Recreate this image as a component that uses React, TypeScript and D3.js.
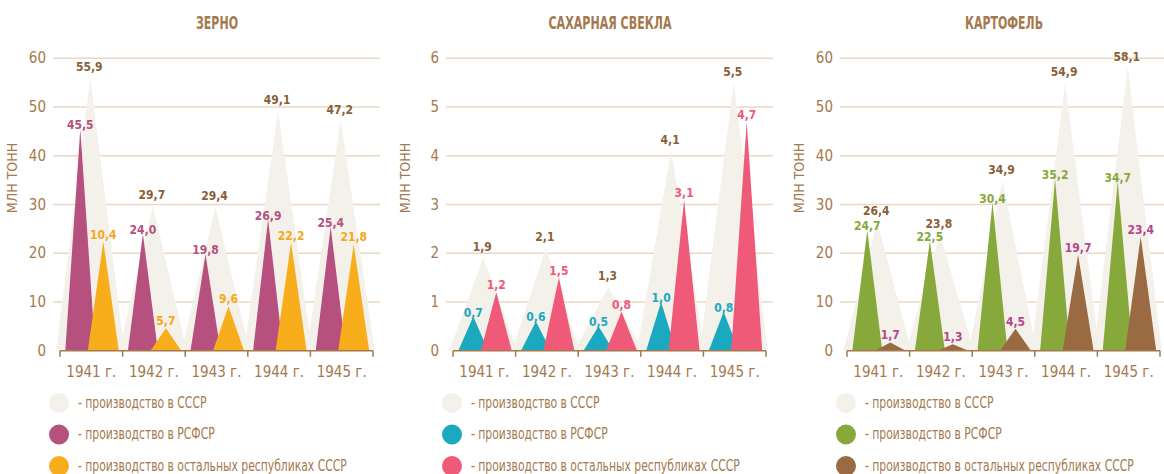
import React from 'react';
import * as d3 from 'd3';

const years = ['1941 г.', '1942 г.', '1943 г.', '1944 г.', '1945 г.'];

// Зерно
const grainUSSR = [55.9, 29.7, 29.4, 49.1, 47.2];
const grainRSFSR = [45.5, 24.0, 19.8, 26.9, 25.4];
const grainOther = [10.4, 5.7, 9.6, 22.2, 21.8];
// heights of the orange peaks as they are drawn in the source (1941 is drawn off its label)
const grainOtherDrawn = [22.4, 4.6, 9.1, 22.2, 21.8];

// Сахарная свекла
const beetUSSR = [1.9, 2.1, 1.3, 4.1, 5.5];
const beetRSFSR = [0.7, 0.6, 0.5, 1.0, 0.8];
const beetOther = [1.2, 1.5, 0.8, 3.1, 4.7];

// Картофель
const potatoUSSR = [26.4, 23.8, 34.9, 54.9, 58.1];
const potatoRSFSR = [24.7, 22.5, 30.4, 35.2, 34.7];
const potatoOther = [1.7, 1.3, 4.5, 19.7, 23.4];

const grainTicks = [0, 10, 20, 30, 40, 50, 60];
const beetTicks = [0, 1, 2, 3, 4, 5, 6];
const potatoTicks = [0, 10, 20, 30, 40, 50, 60];

const legendLabels = [
  '- производство в СССР',
  '- производство в РСФСР',
  '- производство в остальных республиках СССР',
];

const BROWN = '#a3794d';
const DARK = '#8a5f36';
const GRID = '#ead8c4';
const BEIGE = '#f4f0ea';
const NARROW = "'Liberation Sans Narrow', 'DejaVu Sans Condensed', 'Roboto', sans-serif";

const fmt = (v: number) => v.toFixed(1).replace('.', ',');

const y0 = 350.7;
const yTop = 58.3;

type PanelProps = {
  ox: number;
  title: string;
  titleW: number;
  ticks: number[];
  ussr: number[];
  first: number[];
  second: number[];
  secondDrawn?: number[];
  c1: string;
  c2: string;
  l1: string;
  l2: string;
};

const tri = (cx: number, hw: number, top: number) =>
  `M${cx - hw},${y0} L${cx},${top} L${cx + hw},${y0} Z`;

const Panel = (props: PanelProps) => {
  const { ox, title, titleW, ticks, ussr, first, second, c1, c2, l1, l2 } = props;
  const drawn = props.secondDrawn || second;
  const yScale = d3.scaleLinear().domain([0, ticks[ticks.length - 1]]).range([y0, yTop]);
  const xScale = d3.scaleBand().domain(years).range([60, 373]);
  const bw = xScale.bandwidth();
  const mid = (i: number) => (xScale(years[i]) as number) + bw / 2;
  const bounds = years.map((y) => xScale(y) as number).concat([373]);

  return (
    <g transform={`translate(${ox},0)`}>
      <text x={217 - titleW / 2} y={29} textLength={titleW} lengthAdjust="spacingAndGlyphs"
        fontFamily={NARROW} fontWeight="bold" fontSize={18} fill={BROWN}>
        {title}
      </text>
      <text
        transform={`translate(17,178) rotate(-90)`}
        textAnchor="middle"
        fontFamily={NARROW}
        fontSize={14}
        fill={BROWN}
      >
        МЛН ТОНН
      </text>
      {ticks.slice(1).map((t) => (
        <line key={t} x1={53} x2={380} y1={yScale(t)} y2={yScale(t)} stroke={GRID} strokeWidth={1.5} />
      ))}
      {ticks.map((t) => (
        <text key={'l' + t} x={46} y={yScale(t) + 5} textAnchor="end" fontFamily={NARROW} fontSize={15} fill={BROWN}>
          {t}
        </text>
      ))}
      {ussr.map((v, i) => (
        <path key={'u' + i} d={tri(mid(i) - 1, 34, yScale(v))} fill={BEIGE} />
      ))}
      {first.map((v, i) => (
        <path key={'f' + i} d={tri(mid(i) - 11, 15, yScale(v))} fill={c1} />
      ))}
      {drawn.map((v, i) => (
        <path key={'s' + i} d={tri(mid(i) + 12, 15.5, yScale(v))} fill={c2} />
      ))}
      <line x1={60} x2={373} y1={y0} y2={y0} stroke={BROWN} strokeWidth={1.5} />
      {bounds.map((b, i) => (
        <line key={'t' + i} x1={b} x2={b} y1={y0} y2={y0 + 6} stroke={BROWN} strokeWidth={1.5} />
      ))}
      {years.map((y, i) => (
        <text key={y} x={mid(i)} y={377} textAnchor="middle" fontFamily={NARROW} fontSize={15} fill={BROWN}>
          {y}
        </text>
      ))}
      {ussr.map((v, i) => (
        <text key={'ul' + i} x={mid(i) - 2} y={yScale(v) - 7} textAnchor="middle" fontFamily={NARROW} fontWeight="bold" fontSize={12} fill={DARK}>
          {fmt(v)}
        </text>
      ))}
      {first.map((v, i) => (
        <text key={'fl' + i} x={mid(i) - 11} y={yScale(v)} textAnchor="middle" fontFamily={NARROW} fontWeight="bold" fontSize={12} fill={l1}>
          {fmt(v)}
        </text>
      ))}
      {second.map((v, i) => (
        <text key={'sl' + i} x={mid(i) + 12} y={yScale(drawn[i]) - 3} textAnchor="middle" fontFamily={NARROW} fontWeight="bold" fontSize={12} fill={l2}>
          {fmt(v)}
        </text>
      ))}
      {[BEIGE, c1, c2].map((c, i) => (
        <g key={'lg' + i} transform={`translate(59,${403 + i * 31.5})`}>
          <circle r={10} fill={c} />
          <text transform="translate(19,4.5) scale(0.75,1)" fontFamily={NARROW} fontSize={16} fill={BROWN}>
            {legendLabels[i]}
          </text>
        </g>
      ))}
    </g>
  );
};

export default function App() {
  return (
    <svg width={1164} height={474} style={{ position: 'absolute', left: 0, top: 0, background: '#fff' }}>
      <Panel ox={0} title="ЗЕРНО" titleW={42} ticks={grainTicks} ussr={grainUSSR} first={grainRSFSR} second={grainOther}
        secondDrawn={grainOtherDrawn} c1="#b5507f" c2="#f8ad1c" l1="#b5507f" l2="#f5a81c" />
      <Panel ox={393} title="САХАРНАЯ СВЕКЛА" titleW={123} ticks={beetTicks} ussr={beetUSSR} first={beetRSFSR} second={beetOther}
        c1="#1ba9bf" c2="#ee5a78" l1="#1ba9bf" l2="#ee5a78" />
      <Panel ox={787} title="КАРТОФЕЛЬ" titleW={78} ticks={potatoTicks} ussr={potatoUSSR} first={potatoRSFSR} second={potatoOther}
        c1="#87a83a" c2="#9a6a42" l1="#87a83a" l2="#b5478a" />
    </svg>
  );
}
